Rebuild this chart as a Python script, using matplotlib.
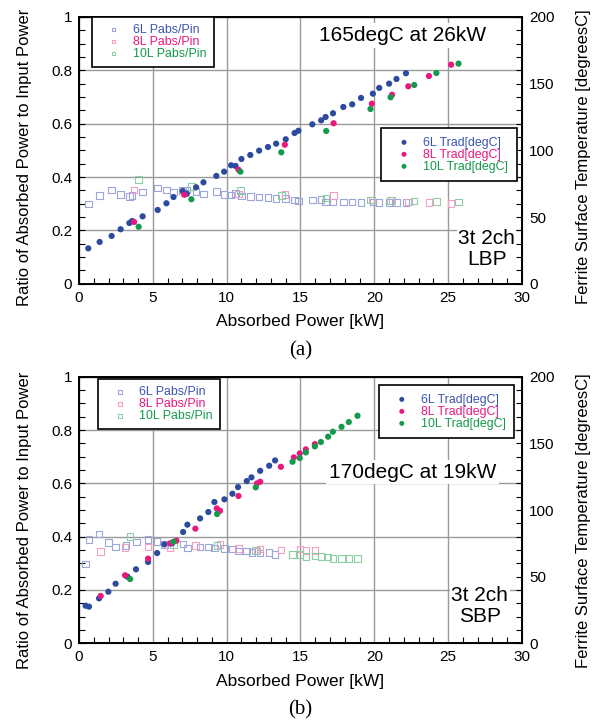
import matplotlib
matplotlib.use("Agg")
import matplotlib.pyplot as plt
from matplotlib.ticker import MultipleLocator, FuncFormatter

plt.rcParams["font.family"] = ["Liberation Sans", "DejaVu Sans"]

BLUE = "#2d4b9e"
PINK = "#e8187f"
GREEN = "#15994a"
BLUE_T = "#3a55b0"
BLUE_L = "#9ca6da"
PINK_L = "#f3a0c6"
GREEN_L = "#8ccfa3"

# ---- (a) LBP : ferrite temperature (dots, right axis) ----
A_6L_P = [0.63, 1.4, 2.21, 2.82, 3.41, 3.6, 4.31, 5.33, 5.92, 6.4, 7.02, 7.3, 7.93, 8.43, 9.3, 9.83,
          10.3, 10.6, 11.0, 11.6, 12.2, 12.8, 13.35, 14.0, 14.6, 14.86, 15.8, 16.4, 16.7, 17.2,
          17.9, 18.5, 19.1, 19.9, 20.33, 21.0, 21.5, 22.14]
A_6L_T = [26.5, 31.3, 35.8, 40.8, 45.5, 47, 50.5, 55.3, 60.3, 65, 69.5, 67.5, 72.3, 76, 80.8, 84,
          88.8, 88.3, 93.5, 96.5, 99.8, 102.5, 105, 108.3, 113, 114.7, 119.5, 122.5, 125, 127.8,
          132.5, 134.5, 139.3, 142.5, 146.8, 150, 153.5, 157.8]
A_8L_P = [3.73, 7.14, 10.8, 13.94, 17.24, 19.83, 21.2, 22.3, 23.7, 25.2]
A_8L_T = [46.3, 66.7, 85.5, 104.2, 120.3, 135, 141.7, 148, 155.7, 164.2]
A_10L_P = [4.04, 7.61, 10.93, 13.7, 16.74, 19.74, 21.1, 22.7, 24.2, 25.7]
A_10L_T = [42.7, 63.3, 84, 98.5, 114.5, 131, 139.8, 149, 158, 165]

# ---- (a) LBP : Pabs/Pin (squares, left axis) ----
A_6L_R = [0.299, 0.33, 0.352, 0.334, 0.326, 0.33, 0.344, 0.359, 0.352, 0.343, 0.35, 0.351, 0.345,
          0.337, 0.345, 0.334, 0.333, 0.339, 0.329, 0.326, 0.325, 0.323, 0.32, 0.319, 0.314, 0.31,
          0.314, 0.315, 0.306, 0.306, 0.306, 0.306, 0.305, 0.306, 0.304, 0.305, 0.305, 0.305]
A_8L_R = [0.352, 0.34, 0.337, 0.335, 0.33, 0.314, 0.311, 0.306, 0.304, 0.3]
A_10L_R = [0.39, 0.364, 0.349, 0.331, 0.322, 0.314, 0.311, 0.31, 0.309, 0.307]

# ---- (b) SBP : ferrite temperature ----
B_6L_P = [0.45, 0.68, 1.36, 1.99, 2.48, 3.28, 3.86, 4.68, 5.29, 5.78, 6.3, 7.05, 7.34, 8.2, 8.76,
          9.17, 9.85, 10.39, 10.77, 11.36, 11.68, 12.27, 12.88, 13.28]
B_6L_T = [28.2, 27.5, 33.7, 38.7, 44.7, 50, 55.5, 61, 67.7, 74.2, 75, 83.5, 89, 93.7, 98.5,
          106, 108, 112.2, 117.2, 121.7, 124.5, 129.4, 133.2, 137.2]
B_8L_P = [1.47, 3.12, 4.68, 6.17, 6.6, 7.88, 9.33, 9.55, 10.8, 12.06, 12.27, 13.67, 14.55,
          14.95, 15.36, 15.97]
B_8L_T = [35.5, 51, 63.5, 75, 77, 86, 101.2, 99.4, 110.5, 120, 121.2, 132.4, 139.5,
          142.5, 145.5, 149.4]
B_10L_P = [3.46, 6.4, 9.35, 11.97, 14.46, 14.95, 15.36, 15.97, 16.38, 16.87, 17.19, 17.78,
           18.27, 18.86]
B_10L_T = [48.2, 76.2, 97, 117, 136.2, 139, 143.2, 147.7, 151, 155, 158.7, 162.4, 166, 170.7]

# ---- (b) SBP : Pabs/Pin ----
B_6L_RP = [0.45, 0.68, 1.36, 1.99, 2.48, 3.19, 3.88, 4.68, 5.29, 5.78, 7.05, 7.36, 8.2, 8.76,
           9.17, 9.85, 10.39, 10.8, 11.36, 11.7, 12.27, 12.88, 13.28]
B_6L_R = [0.297, 0.389, 0.41, 0.379, 0.361, 0.366, 0.38, 0.389, 0.381, 0.371, 0.372, 0.358,
          0.362, 0.362, 0.358, 0.356, 0.354, 0.347, 0.346, 0.34, 0.338, 0.34, 0.334]
B_8L_RP = [1.47, 3.12, 4.68, 6.17, 7.88, 9.55, 10.8, 12.06, 12.27, 13.67, 14.98, 15.36, 15.97]
B_8L_R = [0.344, 0.36, 0.362, 0.358, 0.367, 0.371, 0.356, 0.347, 0.354, 0.35, 0.353, 0.349, 0.348]
B_10L_RP = [3.46, 6.4, 9.35, 11.97, 14.46, 14.95, 15.36, 15.97, 16.38, 16.87, 17.19, 17.78,
            18.27, 18.86]
B_10L_R = [0.40, 0.369, 0.367, 0.348, 0.334, 0.334, 0.325, 0.327, 0.325, 0.324, 0.319, 0.319,
           0.319, 0.319]

fig = plt.figure(figsize=(5.97, 7.25), dpi=100)
ax_a = fig.add_axes([0.1323, 0.6087, 0.7421, 0.3679])
ax_b = fig.add_axes([0.1323, 0.1127, 0.7421, 0.3677])


def panel(ax, sq, dots, note, note_xy, tag, tag_xy, leg1, leg2, letter, ylab_y):
    ax.set_xlim(0, 30)
    ax.set_ylim(0, 1)
    ax.xaxis.set_major_locator(MultipleLocator(5))
    ax.xaxis.set_minor_locator(MultipleLocator(1))
    ax.yaxis.set_major_locator(MultipleLocator(0.2))
    ax.yaxis.set_minor_locator(MultipleLocator(0.05))
    ax.yaxis.set_major_formatter(FuncFormatter(lambda v, p: f"{v:g}"))
    ax.grid(True, which="major", color="#9a9a9a", linewidth=1.0)
    ax.tick_params(which="both", direction="in", top=False, labelsize=11)
    ax.tick_params(which="major", length=0, pad=5)
    ax.tick_params(which="minor", length=4, width=0.8)
    ax.tick_params(axis="y", which="major", length=4)
    for s in ax.spines.values():
        s.set_linewidth(1.4)
    ax.set_xlabel("Absorbed Power [kW]", fontsize=12.5, labelpad=7)
    ax.set_ylabel("Ratio of Absorbed Power to Input Power", fontsize=12)
    ax.yaxis.set_label_coords(-0.106, ylab_y)

    hs = []
    for (xs, ys, c, lab) in sq:
        h = ax.scatter(xs, ys, marker="s", s=22, facecolors="none", edgecolors=c,
                       linewidths=0.8, label=lab, zorder=3)
        hs.append(h)

    ax2 = ax.twinx()
    ax2.set_ylim(0, 200)
    ax2.yaxis.set_major_locator(MultipleLocator(50))
    ax2.yaxis.set_minor_locator(MultipleLocator(10))
    ax2.tick_params(which="both", direction="in", labelsize=11)
    ax2.tick_params(which="major", length=4, pad=5)
    ax2.tick_params(which="minor", length=4, width=0.8)
    ax2.set_ylabel("Ferrite Surface Temperature [degreesC]", fontsize=12)
    ax2.yaxis.set_label_coords(1.122, ylab_y)
    hd = []
    for (xs, ys, c, lab) in dots:
        h = ax2.scatter(xs, ys, marker="o", s=20, color=c, edgecolors="none", label=lab, zorder=4)
        hd.append(h)

    ax2.text(note_xy[0], note_xy[1], note, fontsize=15, ha="center", va="center",
             bbox=dict(facecolor="white", edgecolor="none", pad=2), zorder=6)
    ax2.text(tag_xy[0], tag_xy[1], tag, fontsize=15, ha="center", va="center",
             linespacing=1.1, bbox=dict(facecolor="white", edgecolor="none", pad=1), zorder=6)

    cols = [BLUE_T, PINK, GREEN]
    l1 = ax2.legend(handles=hs, loc="upper left", bbox_to_anchor=leg1, fontsize=8.9,
                    frameon=True, fancybox=False, edgecolor="black", framealpha=1,
                    handletextpad=0.4, labelspacing=0.0, borderpad=0.55,
                    handlelength=2.4, markerscale=0.6, borderaxespad=0)
    for t, c in zip(l1.get_texts(), cols):
        t.set_color(c)
    l1.get_frame().set_linewidth(1.2)
    ax2.add_artist(l1)
    l2 = ax2.legend(handles=hd, loc="upper left", bbox_to_anchor=leg2, fontsize=8.9,
                    frameon=True, fancybox=False, edgecolor="black", framealpha=1,
                    handletextpad=0.4, labelspacing=0.0, borderpad=0.7,
                    handlelength=2.3, markerscale=0.8, borderaxespad=0)
    for t, c in zip(l2.get_texts(), cols):
        t.set_color(c)
    l2.get_frame().set_linewidth(1.2)
    l2.set_zorder(7)
    ax.text(0.5, -0.25, letter, transform=ax.transAxes, fontsize=15,
            ha="center", va="center", family="Liberation Serif")
    return ax2


panel(ax_a,
      [(A_6L_P, A_6L_R, BLUE_L, "6L Pabs/Pin"), (A_8L_P, A_8L_R, PINK_L, "8L Pabs/Pin"),
       (A_10L_P, A_10L_R, GREEN_L, "10L Pabs/Pin")],
      [(A_6L_P, A_6L_T, BLUE, "6L Trad[degC]"), (A_8L_P, A_8L_T, PINK, "8L Trad[degC]"),
       (A_10L_P, A_10L_T, GREEN, "10L Trad[degC]")],
      "165degC at 26kW", (21.9, 186), "3t 2ch\nLBP", (27.6, 26),
      (0.029, 1.0), (0.682, 0.584), "(a)", 0.475)

panel(ax_b,
      [(B_6L_RP, B_6L_R, BLUE_L, "6L Pabs/Pin"), (B_8L_RP, B_8L_R, PINK_L, "8L Pabs/Pin"),
       (B_10L_RP, B_10L_R, GREEN_L, "10L Pabs/Pin")],
      [(B_6L_P, B_6L_T, BLUE, "6L Trad[degC]"), (B_8L_P, B_8L_T, PINK, "8L Trad[degC]"),
       (B_10L_P, B_10L_T, GREEN, "10L Trad[degC]")],
      "170degC at 19kW", (22.6, 128.5), "3t 2ch\nSBP", (27.15, 28),
      (0.043, 0.991), (0.677, 0.969), "(b)", 0.46)

fig.savefig("out.png", dpi=100, facecolor="white")
